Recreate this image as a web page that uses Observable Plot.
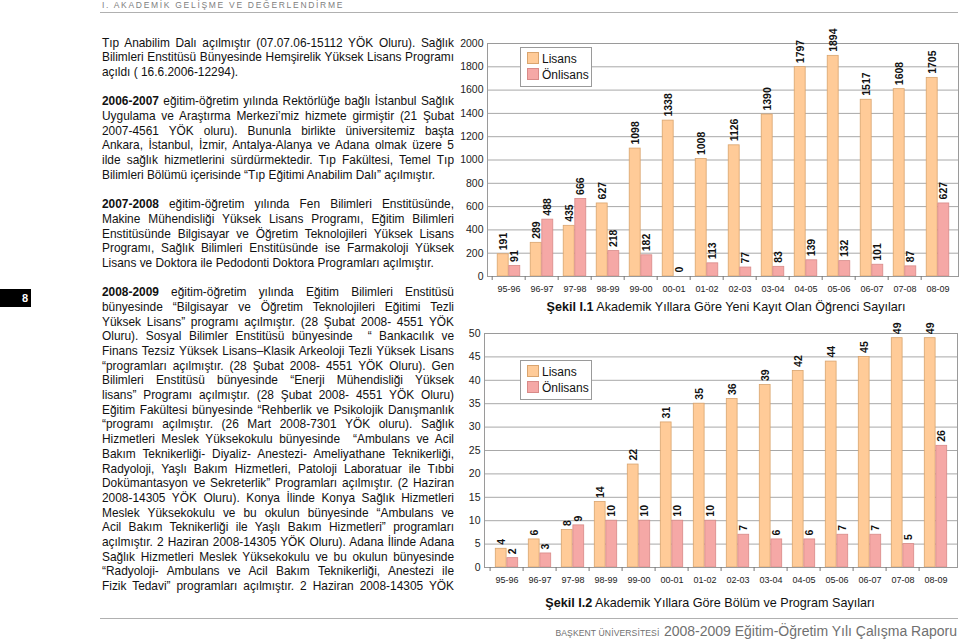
<!DOCTYPE html>
<html>
<head>
<meta charset="utf-8">
<script src="https://cdn.jsdelivr.net/npm/d3@7"></script>
<script src="https://cdn.jsdelivr.net/npm/@observablehq/plot@0.6"></script>
<style>
  html, body { margin: 0; padding: 0; background: #fff; }
  #page { position: relative; width: 960px; height: 640px; overflow: hidden; font-family: "Liberation Sans", Arial, sans-serif; color: #111; }
  .abs { position: absolute; }
  #header { left: 102px; top: 0px; font-size: 8.5px; letter-spacing: 1.7px; color: #808080; line-height: 11px; white-space: nowrap; }
  #hline { left: 100px; top: 12px; width: 858px; height: 0; border-top: 1px solid #b0b0b0; }
  #fline { left: 100px; top: 618px; width: 858px; height: 0; border-top: 1px solid #b0b0b0; }
  #footer { right: 3px; top: 622px; color: #707070; white-space: nowrap; line-height: 18px; }
  #footer .sc { font-size: 8.6px; letter-spacing: 0.1px; }
  #footer .big { font-size: 14px; }
  #pagenum { left: 0; top: 289px; width: 31px; height: 18px; background: #000; color: #fff; font-weight: bold; font-size: 11px; line-height: 18px; text-align: right; box-sizing: border-box; padding-right: 3px; }
  #col { left: 102px; top: 35.6px; width: 352px; font-size: 11.9px; line-height: 14.7px; }
  #col div { text-align: justify; text-align-last: justify; white-space: normal; height: 14.7px; }
  #col div.last { text-align-last: left; }
  .chart { position: absolute; }
  .chart svg { overflow: visible; background: transparent; }
  .cap { position: absolute; font-size: 12.6px; white-space: nowrap; color: #111; transform: translateX(-50%); line-height: 16px; }
  .legend { position: absolute; width: 72px; height: 40px; border: 1px solid #9a9a9a; background: #fff; box-sizing: border-box; font-size: 12px; line-height: 16px; }
  .legend .row { position: absolute; left: 6px; white-space: nowrap; }
  .legend .sw { display: inline-block; width: 10px; height: 10px; vertical-align: -1px; margin-right: 3px; border: 1px solid; }
</style>
</head>
<body>
<div id="page">
  <div id="header" class="abs">I. AKADEMİK GELİŞME VE DEĞERLENDİRME</div>
  <div id="hline" class="abs"></div>
  <div id="pagenum" class="abs">8</div>
  <div id="col" class="abs"></div>
  <div id="chart1" class="chart"></div>
  <div id="chart2" class="chart"></div>
  <div id="leg1" class="legend"></div>
  <div id="leg2" class="legend"></div>
  <div id="cap1" class="cap"><b>Şekil I.1</b> Akademik Yıllara Göre Yeni Kayıt Olan Öğrenci Sayıları</div>
  <div id="cap2" class="cap"><b>Şekil I.2</b> Akademik Yıllara Göre Bölüm ve Program Sayıları</div>
  <div id="fline" class="abs"></div>
  <div id="footer" class="abs"><span class="sc">BAŞKENT ÜNİVERSİTESİ</span> <span class="big">2008-2009 Eğitim-Öğretim Yılı Çalışma Raporu</span></div>
</div>
<script>
// ---------- data ----------
const years = ["95-96","96-97","97-98","98-99","99-00","00-01","01-02","02-03","03-04","04-05","05-06","06-07","07-08","08-09"];
const seriesNames = ["Lisans", "Önlisans"];
const kayitLisans = [191, 289, 435, 627, 1098, 1338, 1008, 1126, 1390, 1797, 1894, 1517, 1608, 1705];
const kayitOnlisans = [91, 488, 666, 218, 182, 0, 113, 77, 83, 139, 132, 101, 87, 627];
const bolumLisans = [4, 6, 8, 14, 22, 31, 35, 36, 39, 42, 44, 45, 49, 49];
const bolumOnlisans = [2, 3, 9, 10, 10, 10, 10, 7, 6, 6, 7, 7, 5, 26];
const yTicks1 = [0, 200, 400, 600, 800, 1000, 1200, 1400, 1600, 1800, 2000];
const yTicks2 = [0, 5, 10, 15, 20, 25, 30, 35, 40, 45, 50];

const paragraphs = [
  ["Tıp Anabilim Dalı açılmıştır (07.07.06-15112 YÖK Oluru). Sağlık",
   "Bilimleri Enstitüsü Bünyesinde Hemşirelik Yüksek Lisans Programı",
   "açıldı ( 16.6.2006-12294)."],
  ["<b>2006-2007</b> eğitim-öğretim yılında Rektörlüğe bağlı İstanbul Sağlık",
   "Uygulama ve Araştırma Merkezi’miz hizmete girmiştir (21 Şubat",
   "2007-4561 YÖK oluru). Bununla birlikte üniversitemiz başta",
   "Ankara, İstanbul, İzmir, Antalya-Alanya ve Adana olmak üzere 5",
   "ilde sağlık hizmetlerini sürdürmektedir. Tıp Fakültesi, Temel Tıp",
   "Bilimleri Bölümü içerisinde “Tıp Eğitimi Anabilim Dalı” açılmıştır."],
  ["<b>2007-2008</b> eğitim-öğretim yılında Fen Bilimleri Enstitüsünde,",
   "Makine Mühendisliği Yüksek Lisans Programı, Eğitim Bilimleri",
   "Enstitüsünde Bilgisayar ve Öğretim Teknolojileri Yüksek Lisans",
   "Programı, Sağlık Bilimleri Enstitüsünde ise Farmakoloji Yüksek",
   "Lisans ve Doktora ile Pedodonti Doktora Programları açılmıştır."],
  ["<b>2008-2009</b> eğitim-öğretim yılında Eğitim Bilimleri Enstitüsü",
   "bünyesinde “Bilgisayar ve Öğretim Teknolojileri Eğitimi Tezli",
   "Yüksek Lisans” programı açılmıştır. (28 Şubat 2008- 4551 YÖK",
   "Oluru). Sosyal Bilimler Enstitüsü bünyesinde \u00a0“ Bankacılık ve",
   "Finans Tezsiz Yüksek Lisans–Klasik Arkeoloji Tezli Yüksek Lisans",
   "“programları açılmıştır. (28 Şubat 2008- 4551 YÖK Oluru). Gen",
   "Bilimleri Enstitüsü bünyesinde “Enerji Mühendisliği Yüksek",
   "lisans” Programı açılmıştır. (28 Şubat 2008- 4551 YÖK Oluru)",
   "Eğitim Fakültesi bünyesinde “Rehberlik ve Psikolojik Danışmanlık",
   "“programı açılmıştır. (26 Mart 2008-7301 YÖK oluru). Sağlık",
   "Hizmetleri Meslek Yüksekokulu bünyesinde \u00a0“Ambulans ve Acil",
   "Bakım Teknikerliği- Diyaliz- Anestezi- Ameliyathane Teknikerliği,",
   "Radyoloji, Yaşlı Bakım Hizmetleri, Patoloji Laboratuar ile Tıbbi",
   "Dokümantasyon ve Sekreterlik” Programları açılmıştır. (2 Haziran",
   "2008-14305 YÖK Oluru). Konya İlinde Konya Sağlık Hizmetleri",
   "Meslek Yüksekokulu ve bu okulun bünyesinde “Ambulans ve",
   "Acil Bakım Teknikerliği ile Yaşlı Bakım Hizmetleri” programları",
   "açılmıştır. 2 Haziran 2008-14305 YÖK Oluru). Adana İlinde Adana",
   "Sağlık Hizmetleri Meslek Yüksekokulu ve bu okulun bünyesinde",
   "“Radyoloji- Ambulans ve Acil Bakım Teknikerliği, Anestezi ile",
   "Fizik Tedavi” programları açılmıştır. 2 Haziran 2008-14305 YÖK"]
];
const lastJustified = [false, false, false, true];

// ---------- text column ----------
const col = document.getElementById("col");
paragraphs.forEach((p, pi) => {
  p.forEach((line, li) => {
    const d = document.createElement("div");
    d.innerHTML = line;
    if (li === p.length - 1 && !lastJustified[pi]) d.className = "last";
    col.appendChild(d);
  });
  if (pi < paragraphs.length - 1) col.appendChild(document.createElement("div"));
});

// ---------- styles ----------
const colors = {Lisans: "#FFCB98", "Önlisans": "#F5A8A6"};
const strokes = {Lisans: "#D9A46E", "Önlisans": "#D88A88"};

function chart({lis, onl, ticks, ymax, width, height, mt, mb, ml, mr}) {
  const step = (width - ml - mr) / years.length;
  const bw = 11.6;
  const rowsL = years.map((y, i) => ({year: y, value: lis[i]}));
  const rowsO = years.map((y, i) => ({year: y, value: onl[i]}));
  return Plot.plot({
    width, height,
    marginTop: mt, marginBottom: mb, marginLeft: ml, marginRight: mr,
    style: {background: "transparent", overflow: "visible", fontFamily: "Liberation Sans, Arial, sans-serif"},
    x: {domain: years, padding: 0, axis: null},
    y: {domain: [0, ymax], axis: null},
    marks: [
      Plot.gridY(ticks, {stroke: "#a8a8a8", strokeOpacity: 1}),
      Plot.barY(rowsL, {x: "year", y: "value", fill: colors.Lisans, stroke: strokes.Lisans, strokeWidth: 0.8,
        insetLeft: step / 2 - bw, insetRight: step / 2}),
      Plot.barY(rowsO, {x: "year", y: "value", fill: colors["Önlisans"], stroke: strokes["Önlisans"], strokeWidth: 0.8,
        insetLeft: step / 2, insetRight: step / 2 - bw}),
      Plot.frame({stroke: "#9a9a9a"}),
      Plot.text(rowsL, {x: "year", y: "value", text: d => String(d.value), rotate: -90, textAnchor: "start", lineAnchor: "middle",
        dx: -bw / 2, dy: -4, fontSize: 10.5, fontWeight: "bold", fill: "#111"}),
      Plot.text(rowsO, {x: "year", y: "value", text: d => String(d.value), rotate: -90, textAnchor: "start", lineAnchor: "middle",
        dx: bw / 2, dy: -4, fontSize: 10.5, fontWeight: "bold", fill: "#111"}),
      Plot.axisY({ticks, tickFormat: "d", tickSize: 0, tickPadding: 4, fontSize: 10.5, fill: "#222", label: null}),
      Plot.axisX({tickSize: 0, tickPadding: 9, fontSize: 9, fill: "#222", label: null}),
      Plot.axisX({tickSize: 4, dx: -step / 2, stroke: "#777", tickFormat: () => "", label: null})
    ]
  });
}

const c1 = document.getElementById("chart1");
c1.style.left = "455px"; c1.style.top = "0px";
c1.appendChild(chart({lis: kayitLisans, onl: kayitOnlisans, ticks: yTicks1, ymax: 2000,
  width: 505, height: 298, mt: 43, mb: 22, ml: 32, mr: 2}));

const c2 = document.getElementById("chart2");
c2.style.left = "455px"; c2.style.top = "310px";
c2.appendChild(chart({lis: bolumLisans, onl: bolumOnlisans, ticks: yTicks2, ymax: 50,
  width: 505, height: 279, mt: 23, mb: 22, ml: 29, mr: 3}));

// ---------- legends ----------
function legend(el, left, top) {
  el.style.left = left + "px"; el.style.top = top + "px";
  seriesNames.forEach((s, i) => {
    const r = document.createElement("div");
    r.className = "row";
    r.style.top = (3 + i * 16) + "px";
    r.innerHTML = `<span class="sw" style="background:${colors[s]};border-color:${strokes[s]}"></span>${s}`;
    el.appendChild(r);
  });
}
legend(document.getElementById("leg1"), 520, 47);
legend(document.getElementById("leg2"), 520, 360);

const cap1 = document.getElementById("cap1");
cap1.style.left = "726px"; cap1.style.top = "299px";
const cap2 = document.getElementById("cap2");
cap2.style.left = "710px"; cap2.style.top = "595px";
</script>
</body>
</html>
